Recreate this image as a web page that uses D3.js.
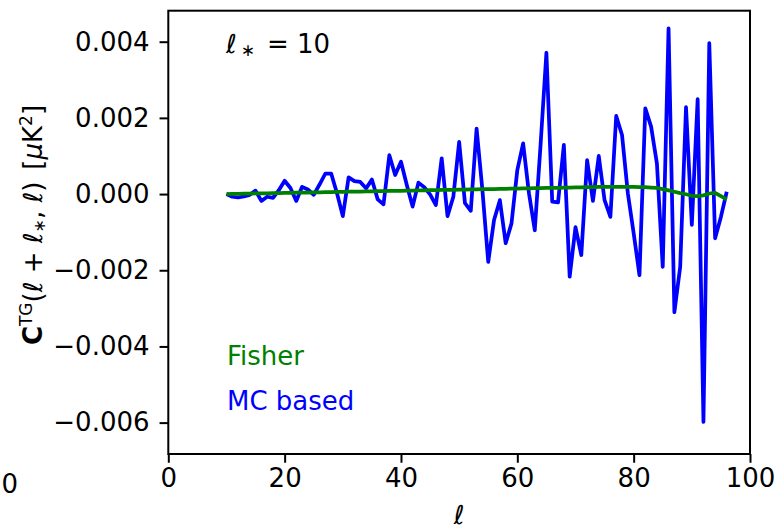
<!DOCTYPE html>
<meta charset="utf-8">
<script src="https://d3js.org/d3.v7.min.js"></script>
<style>
  body { margin: 0; background: #fff; }
  text { font-family: "DejaVu Sans", sans-serif; }
</style>
<div id="chart"></div>
<script>

// multipole values l (x) and the two curves, in units of 1e-4 uK^2
const ell = d3.range(10, 97);

const mcBased = [
  0.0, -0.7, -0.9, -0.6, -0.2, 0.9, -1.8, -0.7, -1.0, 1.0,
  3.5, 1.6, -1.8, 1.9, 1.2, -0.2, 2.5, 5.4, 5.4, 0.2,
  -5.8, 4.4, 3.4, 3.2, 1.5, 3.8, -1.4, -2.7, 10.2, 5.0,
  8.5, 2.4, -3.3, 3.0, 1.8, -0.1, -2.9, 9.4, -5.8, -0.7,
  13.7, -2.4, -4.4, 17.2, 1.0, -17.8, -6.8, -1.6, -12.9, -7.7,
  6.3, 13.3, 0.2, -9.5, 13.0, 37.1, -2.0, -2.2, 12.9, -21.7,
  -8.7, -16.0, 8.9, -1.8, 10.0, -1.6, -6.0, 20.5, 15.5, 0.2,
  -10.3, -21.3, 22.5, 17.7, 8.0, -19.1, 43.5, -31.0, -19.1, 22.8,
  -8.1, 24.9, -59.8, 39.6, -11.6, -6.0, 0.6
];

const fisher = [
  0.00, 0.03, 0.06, 0.09, 0.12, 0.15, 0.17, 0.20, 0.23, 0.26,
  0.29, 0.32, 0.35, 0.38, 0.41, 0.44, 0.46, 0.49, 0.52, 0.55,
  0.58, 0.61, 0.64, 0.67, 0.70, 0.73, 0.75, 0.78, 0.81, 0.84,
  0.87, 0.90, 0.93, 0.96, 0.99, 1.02, 1.04, 1.07, 1.10, 1.13,
  1.16, 1.19, 1.22, 1.25, 1.28, 1.31, 1.33, 1.36, 1.39, 1.42,
  1.45, 1.48, 1.51, 1.54, 1.57, 1.60, 1.62, 1.65, 1.68, 1.71,
  1.74, 1.77, 1.80, 1.83, 1.86, 1.89, 1.90, 1.91, 1.91, 1.90,
  1.88, 1.85, 1.80, 1.72, 1.60, 1.30, 0.95, 0.60, 0.25, -0.05,
  -0.45, -0.55, -0.35, 0.15, 0.30, -0.55, -1.40
];

const xTicks = [0, 20, 40, 60, 80, 100];
const yTicks = [-0.006, -0.004, -0.002, 0.000, 0.002, 0.004];

const W = 778, H = 530;
const margin = {top: 10.7, right: 28, bottom: 76, left: 168.3};
const width = W - margin.left - margin.right,
      height = H - margin.top - margin.bottom;
const fs = "26px";

const svg = d3.select("#chart")
  .append("svg")
    .attr("width", W)
    .attr("height", H);

const g = svg.append("g")
    .attr("transform", `translate(${margin.left},${margin.top})`);

const x = d3.scaleLinear().domain([0, 100]).range([0, width]);
const y = d3.scaleLinear().domain([-0.006824, 0.004814]).range([height, 0]);

const fmtY = d => d3.format(".3f")(d).replace("-", "\u2212");

// axes
const xAxis = g.append("g")
    .attr("transform", `translate(0,${height})`)
    .call(d3.axisBottom(x).tickValues(xTicks).tickSize(8.75).tickPadding(6).tickFormat(d3.format("d")));
const yAxis = g.append("g")
    .call(d3.axisLeft(y).tickValues(yTicks).tickSize(8.75).tickPadding(10).tickFormat(fmtY));

[xAxis, yAxis].forEach(a => {
  a.select(".domain").remove();
  a.selectAll(".tick line").attr("stroke", "#000").attr("stroke-width", 2);
  a.selectAll(".tick text")
    .attr("fill", "#000")
    .style("font-family", "'DejaVu Sans', sans-serif")
    .style("font-size", fs);
});

// frame
g.append("rect")
  .attr("width", width)
  .attr("height", height)
  .attr("fill", "none")
  .attr("stroke", "#000")
  .attr("stroke-width", 2);

// lines
const toPts = vals => vals.map((v, i) => [ell[i], v * 1e-4]);
const line = d3.line().x(d => x(d[0])).y(d => y(d[1]));

g.append("path")
  .datum(toPts(mcBased))
  .attr("d", line)
  .attr("fill", "none")
  .attr("stroke", "#0000ff")
  .attr("stroke-width", 3.75)
  .attr("stroke-linejoin", "round");

g.append("path")
  .datum(toPts(fisher))
  .attr("d", line)
  .attr("fill", "none")
  .attr("stroke", "#008000")
  .attr("stroke-width", 3.75)
  .attr("stroke-linejoin", "round");

// annotation l* = 10
const ann = svg.append("text")
  .attr("x", 226)
  .attr("y", 53)
  .style("font-size", fs)
  .attr("fill", "#000");
ann.append("tspan").style("font-style", "italic").text("\u2113");
ann.append("tspan").attr("dx", 4).attr("dy", 3).style("font-size", "17px").text("\u2217");
ann.append("tspan").attr("dx", 12).attr("dy", -3).text("= 10");

// legend as coloured text
svg.append("text")
  .attr("x", 227)
  .attr("y", 365)
  .attr("fill", "#008000")
  .style("font-size", fs)
  .text("Fisher");
svg.append("text")
  .attr("x", 227)
  .attr("y", 410)
  .attr("fill", "#0000ff")
  .style("font-size", fs)
  .text("MC based");

// x label
svg.append("text")
  .attr("x", margin.left + width / 2)
  .attr("y", 524)
  .attr("text-anchor", "middle")
  .style("font-size", fs)
  .style("font-style", "italic")
  .text("\u2113");

// y label
const yl = svg.append("text")
  .attr("transform", "translate(42,225) rotate(-90)")
  .attr("text-anchor", "middle")
  .style("font-size", fs)
  .attr("fill", "#000");
yl.append("tspan").style("font-weight", "bold").text("C");
yl.append("tspan").attr("dy", -10).style("font-size", "17px").text("TG");
yl.append("tspan").attr("dy", 10).text("(");
yl.append("tspan").style("font-style", "italic").text("\u2113");
yl.append("tspan").text(" + ");
yl.append("tspan").style("font-style", "italic").text("\u2113");
yl.append("tspan").attr("dy", 3).style("font-size", "16px").text("\u2217");
yl.append("tspan").attr("dy", -3).text(", ");
yl.append("tspan").style("font-style", "italic").text("\u2113");
yl.append("tspan").text(")");
yl.append("tspan").attr("dx", 12).text("[");
yl.append("tspan").style("font-style", "italic").text("\u03bc");
yl.append("tspan").text("K");
yl.append("tspan").attr("dy", -10).style("font-size", "17px").text("2");
yl.append("tspan").attr("dy", 10).text("]");

// tick label of the neighbouring panel, cut at the left edge
svg.append("text")
  .attr("x", 18)
  .attr("y", 493)
  .attr("text-anchor", "end")
  .style("font-size", fs)
  .text("0");

</script>
